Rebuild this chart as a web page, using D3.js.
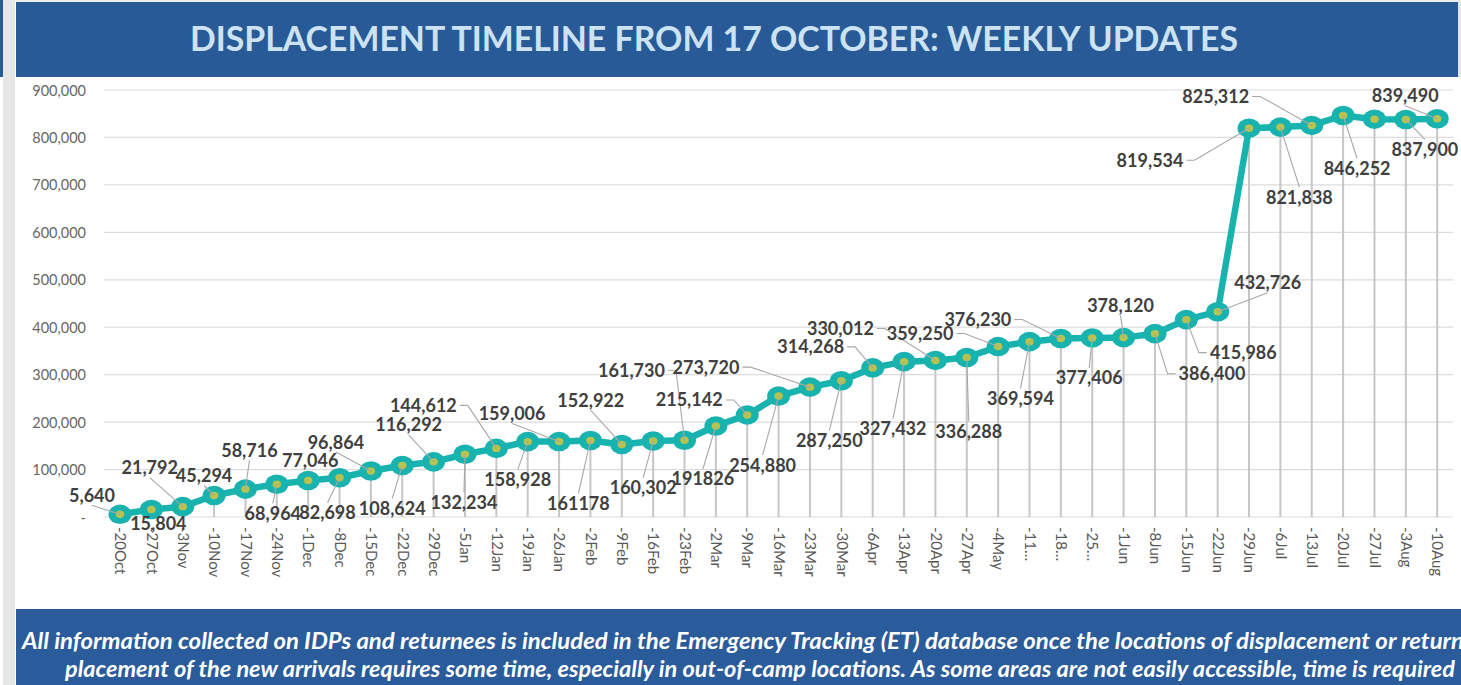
<!DOCTYPE html>
<html>
<head>
<meta charset="utf-8">
<script src="https://cdn.jsdelivr.net/npm/d3@7"></script>
<style>
  html, body { margin: 0; padding: 0; background: #ffffff; overflow: hidden; }
  svg { display: block; }
  text { font-family: Lato, "Open Sans", sans-serif; }
</style>
</head>
<body>
<svg></svg>
<script>
// week labels as printed under the axis (Excel cut some of them off)
var weeks = ["-20Oct","-27Oct","-3Nov","-10Nov","-17Nov","-24Nov","-1Dec","-8Dec","-15Dec","-22Dec",
             "-29Dec","-5Jan","-12Jan","-19Jan","-26Jan","-2Feb","-9Feb","-16Feb","-23Feb","-2Mar",
             "-9Mar","-16Mar","-23Mar","-30Mar","-6Apr","-13Apr","-20Apr","-27Apr","-4May","-11\u2026",
             "-18\u2026","-25\u2026","-1Jun","-8Jun","-15Jun","-22Jun","-29Jun","-6Jul","-13Jul","-20Jul",
             "-27Jul","-3Aug","-10Aug"]

// displaced people, cumulative
var displaced = [5640,15804,21792,45294,58716,68964,77046,82698,96864,108624,
                 116292,132234,144612,158928,159006,161178,152922,160302,161730,191826,
                 215142,254880,273720,287250,314268,327432,330012,336288,359250,369594,
                 376230,377406,378120,386400,415986,432726,819534,821838,825312,846252,
                 838500,837900,839490]

// data labels as printed (27Jul has none on the chart)
var labelText = ["5,640","15,804","21,792","45,294","58,716","68,964","77,046","82,698","96,864","108,624",
                 "116,292","132,234","144,612","158,928","159,006","161178","152,922","160,302","161,730","191826",
                 "215,142","254,880","273,720","287,250","314,268","327,432","330,012","336,288","359,250","369,594",
                 "376,230","377,406","378,120","386,400","415,986","432,726","819,534","821,838","825,312","846,252",
                 null,"837,900","839,490"]

var yTicks = [0,100000,200000,300000,400000,500000,600000,700000,800000,900000]

var titleText = "DISPLACEMENT TIMELINE FROM 17 OCTOBER: WEEKLY UPDATES"
var noteLines = ["All information collected on IDPs and returnees is included in the Emergency Tracking (ET) database once the locations of displacement or return",
                 "placement of the new arrivals requires some time, especially in out-of-camp locations. As some areas are not easily accessible, time is required"]

// layout only: where each data label sits relative to its point (px)
var labelShift = [[-28,-19],[7,14],[-33,-39],[-10,-20],[4,-39],[-4,29],[2,-20],[-12,35],[-35,-29],[-10,43],
                  [-25,-37],[-1,48],[-73,-43],[-10,38],[-47,-28],[-12,63],[-31,-44],[-10,47],[-53,-70],[-13,53],
                  [-58,-15],[-16,69],[-104,-20],[-12,60],[-62,-21],[-11,67],[-95,-32],[2,74],[-78,-13],[-9,57],
                  [-83,-19],[-3,40],[-3,-32],[57,40],[57,33],[50,-29],[-99,32],[19,70],[-96,-29],[14,53],
                  [0,0],[19,30],[-32,-23]]

var screen = {width:1461, height:685}
var plot = {left:104, right:1453, top:90, bottom:517}

var svg = d3.select("svg").attr("width", screen.width).attr("height", screen.height)

var drawFrame = function()
{
    svg.append("rect").attr("x",0).attr("y",0).attr("width",screen.width).attr("height",2).attr("fill","#efefef")
    svg.append("rect").attr("x",3).attr("y",0).attr("width",12).attr("height",screen.height).attr("fill","#e6e6e6")
    svg.append("rect").attr("x",0).attr("y",0).attr("width",3).attr("height",77).attr("fill","#285a98")
    svg.append("rect").attr("x",16).attr("y",2).attr("width",1442).attr("height",75).attr("fill","#285a98")
    svg.append("rect").attr("x",1458).attr("y",0).attr("width",3).attr("height",77).attr("fill","#e6e6e6")

    svg.append("text")
        .attr("x",714).attr("y",51)
        .attr("text-anchor","middle")
        .attr("font-size",35).attr("font-weight",700)
        .attr("fill","#cde3f3")
        .attr("textLength",1048).attr("lengthAdjust","spacingAndGlyphs")
        .text(titleText)

    //footer note
    svg.append("rect").attr("x",16).attr("y",609).attr("width",screen.width-16).attr("height",76).attr("fill","#2a5b9a")
    svg.append("text")
        .attr("x",22).attr("y",649)
        .attr("font-size",22).attr("font-style","italic").attr("font-weight",700).attr("fill","#ffffff")
        .attr("textLength",1442).attr("lengthAdjust","spacingAndGlyphs")
        .text(noteLines[0])
    svg.append("text")
        .attr("x",65).attr("y",677)
        .attr("font-size",22).attr("font-style","italic").attr("font-weight",700).attr("fill","#ffffff")
        .attr("textLength",1390).attr("lengthAdjust","spacingAndGlyphs")
        .text(noteLines[1])
}

var drawChart = function()
{
    var xScale = d3.scalePoint().domain(weeks).range([120, 1437.2])
    var yScale = d3.scaleLinear().domain([0, 900000]).range([plot.bottom, plot.top])

    var g = svg.append("g").attr("id","chart")

    //horizontal grid
    g.append("g").selectAll("line")
        .data(yTicks)
        .enter().append("line")
        .attr("x1",plot.left).attr("x2",plot.right)
        .attr("y1",function(d){return yScale(d)}).attr("y2",function(d){return yScale(d)})
        .attr("stroke","#dcdcdc").attr("stroke-width",1.2)

    //y axis (labels only)
    var yAxis = d3.axisLeft(yScale)
        .tickValues(yTicks)
        .tickSize(0)
        .tickFormat(function(d){return d == 0 ? "-  " : d3.format(",")(d)})
    var ya = g.append("g").attr("transform","translate(86,0)").call(yAxis)
    ya.select(".domain").remove()
    ya.selectAll("text")
        .attr("x",0).attr("dy","0.35em")
        .attr("font-family","Lato, sans-serif").attr("font-size",14.5).attr("fill","#666666")

    //x axis labels, rotated
    var xAxis = d3.axisBottom(xScale).tickSize(0).tickPadding(0)
    var xa = g.append("g").attr("transform","translate(0,"+plot.bottom+")").call(xAxis)
    xa.select(".domain").remove()
    xa.selectAll("text")
        .attr("font-family","Lato, sans-serif").attr("font-size",15).attr("fill","#595959")
        .attr("text-anchor","start")
        .attr("y",0).attr("x",0).attr("dy","0.35em")
        .attr("transform","translate(0,10) rotate(90)")

    //drop lines from each point down to the axis
    g.append("g").selectAll("line")
        .data(displaced)
        .enter().append("line")
        .attr("x1",function(d,i){return xScale(weeks[i])})
        .attr("x2",function(d,i){return xScale(weeks[i])})
        .attr("y1",function(d){return yScale(d)})
        .attr("y2",plot.bottom)
        .attr("stroke","#c6c6c6").attr("stroke-width",2)

    var line = d3.line()
        .x(function(d,i){return xScale(weeks[i])})
        .y(function(d){return yScale(d)})

    g.append("path")
        .datum(displaced)
        .attr("d",line)
        .attr("fill","none")
        .attr("stroke","#19b3af").attr("stroke-width",6.5)
        .attr("stroke-linejoin","round")

    var pts = g.append("g").selectAll("g")
        .data(displaced)
        .enter().append("g")
        .attr("transform",function(d,i){return "translate("+xScale(weeks[i])+","+yScale(d)+")"})
    pts.append("ellipse").attr("rx",11.5).attr("ry",9.8).attr("fill","#19b3af")
    pts.append("ellipse").attr("rx",4.2).attr("ry",3.7).attr("fill","#b8c24c")

    drawLabels(g, xScale, yScale)
}

var drawLabels = function(g, xScale, yScale)
{
    var lg = g.append("g").attr("id","labels")
    displaced.forEach(function(v,i){
        if(labelText[i] == null) return
        var px = xScale(weeks[i]), py = yScale(v)
        var cx = px + labelShift[i][0], cy = py + labelShift[i][1]

        var t = lg.append("text")
            .attr("x",cx).attr("y",cy)
            .attr("text-anchor","middle").attr("dy","0.36em")
            .attr("font-size",18).attr("font-weight",700).attr("fill","#404040")
            .text(labelText[i])
        var w = t.node().getComputedTextLength()
        var left = cx - w/2 - 2, right = cx + w/2 + 2, top = cy - 10, bottom = cy + 10

        //leader line like excel: side stub or from top/bottom
        var pathPts = null
        if(px > right + 15) pathPts = [[right+1,cy],[right+9,cy],[px,py]]
        else if(px < left - 15) pathPts = [[left-1,cy],[left-9,cy],[px,py]]
        else if(py > bottom) pathPts = [[cx,bottom],[px,py]]
        else if(py < top) pathPts = [[cx,top],[px,py]]
        if(pathPts == null) return
        var s = pathPts[pathPts.length-2]
        if(Math.hypot(px-s[0],py-s[1]) < 14) return
        lg.insert("path","text")
            .attr("d",d3.line()(pathPts))
            .attr("fill","none").attr("stroke","#a8a8a8").attr("stroke-width",1.1)
    })
}

drawFrame()
drawChart()
</script>
</body>
</html>
